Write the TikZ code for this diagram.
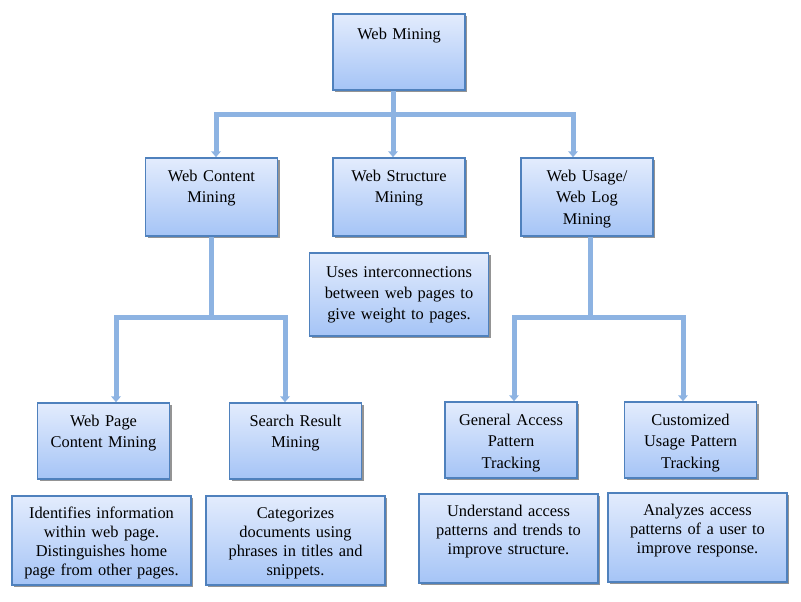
\documentclass[tikz,border=0pt]{standalone}
\usepackage{fontspec}
\setmainfont{Liberation Serif}
\usepackage{tikz}
\usetikzlibrary{arrows.meta,shadows}

\definecolor{boxline}{HTML}{4F81BD}
\definecolor{boxtop}{HTML}{E3ECFD}
\definecolor{boxbottom}{HTML}{A5C4F6}
\definecolor{linkblue}{HTML}{8DB3E2}

\begin{document}
\begin{tikzpicture}[x=0.5pt,y=-0.5pt,>={Triangle[width=4.8pt,length=3pt]},
    box/.style={draw=boxline, line width=0.75pt, top color=boxtop, bottom color=boxbottom,
        drop shadow={shadow xshift=1.1pt, shadow yshift=-1.1pt, fill=black!42, opacity=1},
        align=center, inner xsep=2pt, inner ysep=0pt,
        font=\fontsize{8.2}{10.9}\selectfont},
    head/.style={box, text width=62pt, text height=11.5pt, text depth=26.5pt},
    note/.style={box, text width=85.5pt, text height=11pt, text depth=33.5pt,
        font=\fontsize{8.2}{9.6}\selectfont},
    link/.style={draw=linkblue, line width=2.5pt}]

    % Fix the page size
    \useasboundingbox (0,0) rectangle (801,601);

    % Draw top box
    \node[head, text height=12.5pt, text depth=25.5pt] (wm) at (399,52) {Web Mining};

    % Draw second level
    \node[head, text depth=27.5pt] (wc) at (211.5,197) {Web Content\\Mining};
    \node[head, text depth=27.5pt] (ws) at (399,197) {Web Structure\\Mining};
    \node[head, text depth=27.5pt] (wu) at (587,197) {Web Usage/\\Web Log\\Mining};

    % Draw note under web structure mining
    \node[note, text height=12pt, text depth=29.5pt, font=\fontsize{8.2}{10.5}\selectfont]
        (wsnote) at (399,294.5) {Uses interconnections\\between web pages to\\give weight to pages.};

    % Draw third level
    \node[head] (wp) at (103.5,441) {Web Page\\Content Mining};
    \node[head] (sr) at (295.5,441) {Search Result\\Mining};
    \node[head] (ga) at (511,440) {General Access\\Pattern\\Tracking};
    \node[head] (cu) at (690.5,440) {Customized\\Usage Pattern\\Tracking};

    % Draw notes under third level
    \node[note] (wpnote) at (101.5,540.5) {Identifies information\\within web page.\\Distinguishes home\\page from other pages.};
    \node[note] (srnote) at (295.5,540.5) {Categorizes\\documents using\\phrases in titles and\\snippets.};
    \node[note] (ganote) at (508.5,538.5) {Understand access\\patterns and trends to\\improve structure.};
    \node[note] (cunote) at (697.5,537.5) {Analyzes access\\patterns of a user to\\improve response.};

    % Draw links from web mining
    \draw[link,->] ([xshift=-3pt]wm.south) -- ([xshift=-3pt]ws.north);
    \draw[link,<->] ([xshift=2.25pt]wc.north) -- ++(0,-43) -| ([xshift=-7pt]wu.north);

    % Draw links from web content mining
    \draw[link] (wc.south) -- ++(0,82);
    \draw[link,<->] ([xshift=6.25pt]wp.north) -- ++(0,-85) -| ([xshift=-5.25pt]sr.north);

    % Draw links from web usage mining
    \draw[link] ([xshift=1.5pt]wu.south) -- ++(0,82);
    \draw[link,<->] ([xshift=1.5pt]ga.north) -- ++(0,-84) -| ([xshift=-3.75pt]cu.north);

\end{tikzpicture}
\end{document}
